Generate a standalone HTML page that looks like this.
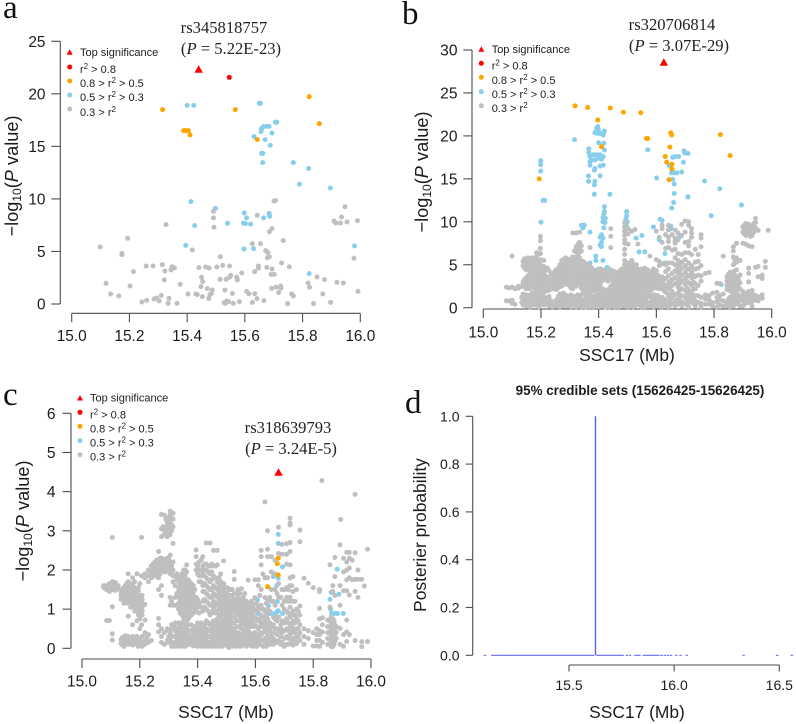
<!DOCTYPE html>
<html><head><meta charset="utf-8"><title>GWAS regional plots</title>
<style>
html,body{margin:0;padding:0;background:#fff;width:796px;height:724px;overflow:hidden}
svg{display:block}
text{font-family:"Liberation Sans",sans-serif;fill:#1c1c1c}
.serif{font-family:"Liberation Serif",serif}
.letter{font-family:"Liberation Serif",serif;font-size:33px;fill:#111}
.snp{font-family:"Liberation Serif",serif;font-size:16.6px;fill:#222}
.leg{font-size:11px}
.ttl{font-size:17.4px}
</style></head><body>
<svg id="fig" width="796" height="724" viewBox="0 0 796 724" xmlns="http://www.w3.org/2000/svg">
<text class="letter" x="3" y="18">a</text>
<text class="letter" x="402" y="24">b</text>
<text class="letter" x="3" y="405">c</text>
<text class="letter" x="405" y="413">d</text>

<text class="snp" x="224" y="33" text-anchor="middle">rs345818757</text>
<text class="snp" x="231" y="54" text-anchor="middle">(<tspan font-style="italic">P</tspan> = 5.22E-23)</text>
<text class="snp" x="672" y="30" text-anchor="middle">rs320706814</text>
<text class="snp" x="679" y="51" text-anchor="middle">(<tspan font-style="italic">P</tspan> = 3.07E-29)</text>
<text class="snp" x="288" y="433" text-anchor="middle">rs318639793</text>
<text class="snp" x="291" y="454" text-anchor="middle">(<tspan font-style="italic">P</tspan> = 3.24E-5)</text>

<text class="ttl" style="font-size:18.2px" transform="translate(18,176) rotate(-90)" text-anchor="middle">−log<tspan font-size="12" dy="3">10</tspan><tspan dy="-3">(</tspan><tspan font-style="italic">P</tspan> value)</text>
<text class="ttl" style="font-size:18.2px" transform="translate(428,172) rotate(-90)" text-anchor="middle">−log<tspan font-size="12" dy="3">10</tspan><tspan dy="-3">(</tspan><tspan font-style="italic">P</tspan> value)</text>
<text class="ttl" style="font-size:18.2px" transform="translate(29,521) rotate(-90)" text-anchor="middle">−log<tspan font-size="12" dy="3">10</tspan><tspan dy="-3">(</tspan><tspan font-style="italic">P</tspan> value)</text>
<text class="ttl" transform="translate(426,535) rotate(-90)" text-anchor="middle">Posterier probability</text>

<text class="ttl" x="627" y="361" text-anchor="middle">SSC17 (Mb)</text>
<text class="ttl" x="226" y="718" text-anchor="middle">SSC17 (Mb)</text>
<text class="ttl" x="637" y="718" text-anchor="middle">SSC17 (Mb)</text>
<text x="640" y="395" font-size="13.4" font-weight="bold" text-anchor="middle">95% credible sets (15626425-15626425)</text>

<g id="plots"></g>
</svg>
<script>
const SVGNS = 'http://www.w3.org/2000/svg';
const COLORS = { gray:'#bfbfbf', blue:'#87ceeb', orange:'#ffa500', red:'#ff0000', stem:'#5c5cf4', axis:'#4d4d4d' };

/* ---------- shared axis tick labels ---------- */
const xTicksABC = [15.0,15.2,15.4,15.6,15.8,16.0];
const yTicksA = [0,5,10,15,20,25];
const yTicksB = [0,5,10,15,20,25,30];
const yTicksC = [0,1,2,3,4,5,6];
const xTicksD = [15.5,16.0,16.5];
const yTicksD = [0,0.2,0.4,0.6,0.8,1.0];

/* ---------- panel a ---------- */
const aTop = [[15.44,22.36]];
const aRed = [[15.546,21.57]];
const aOrange = [[15.315,18.5],[15.567,18.5],[15.823,19.73],[15.858,17.16],[15.388,16.5],[15.396,16.5],[15.404,16.5],[15.41,16.1],[15.643,15.64]];
const aBlue = [[15.40,18.9],[15.423,18.9],[15.65,19.1],[15.654,19.1],[15.706,17.3],[15.711,17.3],[15.675,16.9],[15.684,16.9],[15.664,16.88],[15.658,16.7],[15.656,16.4],[15.694,16.27],[15.632,15.93],[15.67,15.64],[15.688,15.1],[15.658,14.34],[15.662,14.34],[15.662,13.45],[15.768,13.45],[15.821,12.9],[15.789,11.4],[15.896,11.04],[15.413,9.74],[15.498,9.1],[15.426,7.46],[15.54,7.68],[15.598,8.66],[15.606,8.2],[15.595,7.7],[15.602,7.65],[15.62,7.6],[15.665,8.2],[15.684,8.63],[15.685,8.44],[15.686,8.35],[15.395,5.58],[15.597,5.23],[15.63,5.27],[15.98,5.52],[15.823,2.89]];
const aGray = [[15.099,5.43],[15.174,4.82],[15.174,4.7],[15.194,6.25],[15.327,7.55],[15.119,1.97],[15.135,.95],[15.163,.76],[15.202,1.71],[15.214,3.08],[15.258,3.62],[15.282,3.62],[15.314,3.74],[15.323,3.14],[15.321,2.28],[15.348,3.55],[15.344,3.24],[15.356,3.43],[15.376,1.87],[15.243,.19],[15.26,.35],[15.285,.48],[15.294,.57],[15.31,.82],[15.303,.29],[15.337,.54],[15.334,.06],[15.365,.06],[15.403,.95],[15.43,.95],[15.435,.89],[15.453,.7],[15.448,1.65],[15.45,2.54],[15.454,2.13],[15.418,5.14],[15.441,3.46],[15.464,3.52],[15.476,3.43],[15.503,3.52],[15.515,4.5],[15.523,3.68],[15.547,3.62],[15.491,8.2],[15.493,7.3],[15.491,8.82],[15.47,1.46],[15.487,1.33],[15.479,.89],[15.484,1],[15.475,.54],[15.514,2.35],[15.535,2.35],[15.551,2.73],[15.547,2.55],[15.572,2.54],[15.574,2.28],[15.589,2.95],[15.531,1.33],[15.557,1],[15.528,.13],[15.537,.29],[15.544,.22],[15.532,.06],[15.56,.06],[15.581,.22],[15.606,1.2],[15.614,.98],[15.634,.98],[15.626,.16],[15.642,.51],[15.666,.32],[15.634,3.08],[15.647,3.62],[15.647,3.4],[15.676,3.49],[15.694,3.33],[15.691,2.82],[15.702,2.82],[15.693,1.49],[15.708,1.59],[15.724,1.71],[15.725,1.5],[15.717,1.08],[15.727,3.9],[15.754,3.55],[15.762,.95],[15.768,.76],[15.748,.03],[15.819,2],[15.824,1.59],[15.85,2.57],[15.876,2.32],[15.87,.95],[15.838,.03],[15.897,.16],[15.919,2.06],[15.941,2],[15.992,1.2],[15.978,4.35],[15.626,5.74],[15.654,5.74],[15.672,5.08],[15.68,4.89],[15.685,4.5],[15.678,4.4],[15.733,6.03],[15.685,6.88],[15.694,7.17],[15.643,8.44],[15.706,9.84],[15.701,9.8],[15.947,9.26],[15.935,8.28],[15.909,7.9],[15.915,7.71],[15.931,7.71],[15.954,7.8],[15.99,7.93]];

/* ---------- panel b ---------- */
const bTop = [[15.626,28.6]];
const bRed = [];
const bOrange = [[15.318,23.5],[15.362,23.3],[15.44,23.25],[15.486,22.75],[15.546,22.7],[15.397,21.85],[15.41,18.75],[15.566,19.7],[15.57,19.7],[15.65,20.35],[15.653,20.1],[15.647,18.7],[15.631,17.6],[15.636,16.95],[15.654,16.7],[15.654,16.15],[15.644,14.9],[15.822,20.15],[15.856,17.7],[15.194,15.0]];
const bBlue = [[15.316,19.57],[15.397,21.08],[15.393,20.9],[15.399,20.7],[15.387,20.4],[15.395,20.3],[15.404,20.3],[15.42,20.55],[15.416,20.1],[15.40,19.2],[15.418,19.14],[15.42,18.36],[15.366,18.5],[15.366,18.06],[15.37,17.6],[15.382,17.8],[15.393,17.8],[15.405,17.8],[15.416,17.6],[15.375,17.2],[15.387,17.2],[15.399,17.4],[15.41,17.3],[15.37,17],[15.37,16.6],[15.387,16.2],[15.385,16],[15.405,16.5],[15.416,16.6],[15.365,15.35],[15.365,14.7],[15.387,14.7],[15.385,14.3],[15.405,15.35],[15.385,13.2],[15.439,13.2],[15.57,18.37],[15.601,15.1],[15.696,18.25],[15.699,18],[15.71,17.95],[15.657,17.5],[15.665,17.6],[15.677,17.6],[15.644,16.55],[15.694,16.93],[15.653,15.7],[15.663,15.7],[15.671,15.7],[15.688,15.8],[15.657,14.95],[15.662,14.4],[15.662,13.3],[15.709,12.9],[15.66,12.25],[15.653,11.6],[15.613,10.3],[15.199,17.1],[15.199,16.65],[15.199,15.9],[15.207,12.5],[15.213,12.5],[15.2,9.95],[15.42,11.76],[15.42,11.2],[15.418,10.9],[15.415,10.5],[15.423,10.4],[15.415,10],[15.422,9.9],[15.418,9.3],[15.41,8.5],[15.405,8.2],[15.415,8.1],[15.41,7.6],[15.405,7.3],[15.41,7.1],[15.39,6],[15.39,5.5],[15.37,5.2],[15.415,5.5],[15.34,9.6],[15.35,9.6],[15.345,9.3],[15.37,8.8],[15.497,11.2],[15.497,10.7],[15.494,10.3],[15.499,10],[15.495,9.6],[15.497,9.2],[15.53,8.1],[15.55,8.4],[15.54,6.5],[15.56,6.5],[15.59,9.4],[15.62,10.15],[15.61,7.9],[15.63,6.3],[15.63,5.2],[15.65,9.5],[15.65,9.2],[15.68,8.2],[15.665,7.7],[15.645,2.8],[15.825,2.7],[15.79,10.7],[15.895,11.95],[15.71,12.9],[15.767,14.75],[15.82,13.85],[15.38,4.4],[15.4,4.5],[15.43,4.7],[15.56,3.5]];
const bGrayColumns = [
[15.08,[2.4,.8]],[15.09,[2.3,.8]],[15.1,[6,2.4,.5,.85]],[15.11,[2.2,.4]],[15.122,[2.5,2.3]],[15.133,[2.5,1.2,.6]],
[15.143,[5.7,5.1,4.6,3.3,2.4,1.1,.6]],[15.155,[5.8,5.3,4.7,3.7,3,2.4,1.2,.8,.3]],[15.17,[5.8,5.2,4.6,3.7,3.1,2.5,1.7,1.1,.5]],
[15.185,[6.4,6,5.5,5,4.5,3.8,3.2,2.7,2.1,1.4,.9,.4]],[15.198,[8.3,7.8,6.9,6.3,5.6,5,4.4,3.9,3.2,2.6,2,1.3,.8,.3]],
[15.21,[5.5,4.8,4.1,3.4,2.8,2.2,1.3,.8,.3]],[15.222,[4.6,3.5,2.9,2.3,1.1,.7,.4]],[15.235,[3.8,3.2,2.5,.8,.3]],
[15.248,[4.2,3.6,3,2.4,.5,.2]],[15.26,[4.6,4.1,3.5,2.9,2.3,1.3,.6,.2]],[15.272,[5.5,4.9,4.3,3.7,3.1,2.5,1.4,.9,.4]],
[15.285,[5.8,5.3,4.7,4.1,3.5,2.9,1.5,1,.4]],[15.298,[5.6,5,4.4,3.8,3.2,2.6,1.2,.7,.2]],[15.31,[8.7,5.9,5.4,4.8,4.2,3.6,3,2.2,1,.4]],
[15.322,[8.7,7.1,6.5,5.9,5.2,4.6,4.1,3.5,2.9,2.5,1.1,.5,.1]],[15.334,[8.8,7.6,7,6.5,5.8,5,4.4,3.8,3.2,2.7,1.2,.6,.2]],
[15.346,[5.4,4.8,4.2,3.6,3.1,2.6,2,.8,.3]],[15.358,[5.1,4.5,3.9,3.4,2.8,2.3,1.2,.7,.1]],[15.37,[7,4.8,4.2,3.6,3.1,2.5,2,1,.5,.1]],
[15.382,[4.4,3.9,3.3,2.8,2.2,1.1,.6,.1]],[15.395,[4.4,3.8,3.3,2.7,2.2,1.5,.9,.4]],[15.407,[4.5,3.9,3.4,2.9,2.4,1.9,1.3,.7,.2]],
[15.42,[4.4,3.9,3.3,2.1,1.6,1,.5,.1]],[15.432,[4.2,3.7,3.1,1.8,1.3,.8,.3]],[15.442,[9.2,8.3,7,4.4,3.9,3.3,2.5,2,1.4,.9,.4]],
[15.455,[4.2,3.7,3.2,2.7,2.2,1.7,1.1,.6,.1]],[15.468,[4,3.5,3,2.5,2,1.5,1,.5,.1]],[15.48,[4.5,4,3.5,3,2.5,2,1.5,1,.4]],
[15.49,[9.9,9.4,8.9,8.4,7.9,7.5,6.8,6.2,5.5,5,4.5,4,3.5,3,2.5,2,1.5,1,.4]],[15.502,[9.2,8.6,7.4,5.2,4.7,4.2,3.7,3.1,2.6,2.1,1.6,1.1,.6,.1]],
[15.515,[8.9,5.5,4.8,4.3,3.8,3.2,2.7,2.2,1.7,1.2,.7,.2]],[15.526,[9.1,4.7,4.2,3.7,3.2,2.7,2.2,1.7,1.2,.7,.2]],[15.536,[7.4,4.5,4,3.5,3,2.5,2,1.5,1,.5]],
[15.548,[4.5,4,3.5,3,2.5,2,1.5,1,.5,.1]],[15.56,[4.6,4.1,3.6,3.1,2.6,2.1,1.6,1.1,.6,.1]],[15.57,[4.4,3.9,3.4,2.9,2.4,1.9,1.4,.5]],
[15.578,[6,4,3.5,3,2.5,2,1.3,.6,.2]],[15.59,[4.5,4,3.5,2.8,2.3,1.2,.5,.1]],[15.6,[8.9,5.6,4.3,3.5,2.9,2.3,1.1,.6]],
[15.61,[8.2,5.4,4.9,3.4,2.8,2.2,1,.4]],[15.62,[9.6,9.2,7.6,5.1,3.6,3,2.3,1.2,.6,.1]],[15.632,[8.5,6.9,5,4.2,3.4,2.5,1.8,.9,.3]],
[15.642,[9.6,9.05,8.2,7.7,7,5.2,4.5,3.7,2.9,2.2,1.4,.7,.1]],[15.655,[8.5,6.7,5.2,4,3.3,2.6,1.9,1.2,.5]],[15.665,[9.05,8.1,7.5,6.8,5.8,5,4.3,3.5,2.8,1.5,.8,.2]],
[15.675,[8.7,7.9,6.3,5.5,4.7,4,3.2,2.4,1.7,1,.4]],[15.688,[9.7,8.4,6.2,5.3,4.6,3.8,3.1,2.2,1.4,.7,.2]],[15.7,[10.1,8.8,7.6,6.4,5.6,4.9,4.1,3.4,2.7,2,1.2,.5]],
[15.712,[10,9.6,7.7,7.2,6.4,5.2,4.5,3.7,2.9,2,1.3,.6,.1]],[15.722,[9.2,8.7,8.2,6.2,4.9,4.1,3.5,2.6,1.7,.9]],[15.735,[6.8,5.3,4.5,3.6,2.8,2.2,1.4,.8,.2]],
[15.745,[6.2,5.4,4.6,3.8,2.6,1.4,.6]],[15.755,[8.5,8.1,7.1,4.9,3.7,3.1,1.2,.5,.1]],[15.77,[4,1.5,1,.4]],[15.783,[4.1,1.4,.9,.4]],
[15.795,[1.7,.6,.2]],[15.81,[2.85,1.8,1.2,.7,.1]],[15.82,[2.8,1.4,.9,.3]],[15.832,[6,1.6,.8,.2]],[15.845,[3.6,3.1,2.6,2.1,.6,.2]],
[15.855,[4.1,3.5,3,2.5,2,1.2,.6,.1]],[15.867,[7.1,6.6,5.9,5,4.2,3.6,3.1,2.6,2.1,1.3,.7,.2]],[15.878,[7.5,5.8,5.3,4.4,3.5,3,2.5,2,1.2,.6]],
[15.89,[5.5,3.8,2.9,2.2,1.3,.8,.2]],[15.9,[9.4,8.8,7.5,1.9,1.4,.9,.2]],[15.91,[9.8,9.3,8.8,8.4,7.4,1.7,1.2,.5]],[15.92,[9.7,9.2,8.6,7.2,4.6,4,3,1.9,1.3,.6]],
[15.932,[9.5,8.9,8.4,7.1,2,1.3,.7,.2]],[15.944,[10.4,9.9,9.3,4.7,1.4,.9]],[15.953,[9,4.8,3.6,1.3,.8]],[15.967,[3.8,3.4,1.5,1.1]],[15.978,[5.4,4.7]],[15.988,[9]]
];
const bGrayDense = [
[15.138,[5.4,4.9,3,1.6,.9,.3]],[15.149,[5.5,5,4.4,3.5,2.8,2.2,1.5,1,.5,.2]],[15.162,[5.6,5,4.5,4.1,3.4,2.9,2.2,1.5,1,.5,.1]],
[15.178,[5.6,5,4.2,3.4,2.9,2.3,1.8,1.4,.8,.3]],[15.192,[5.3,4.8,4.2,3.5,3,2.4,1.7,1.1,.6,.1]],[15.204,[4.7,3.6,2.9,2.3,1.6,1,.5]],
[15.216,[4.4,3.7,3.1,2.5,1.9,1,.5]],[15.228,[4.3,3.2,2.6,2,1.3,.9,.2]],[15.24,[4,3.5,2.9,2.2,.6,.1]],[15.253,[4.4,3.9,3.3,2.7,2.1,.9,.3]],
[15.266,[5,4.5,3.8,3.2,2.6,1.6,1,.4,.1]],[15.278,[5.6,5.1,4.5,3.9,3.3,2.7,1.7,1.2,.7,.2]],[15.291,[5.7,5.1,4.5,3.9,3.3,2.7,1.3,.8,.2]],
[15.304,[5.5,5,4.4,3.9,3.3,2.8,2.3,1.5,.7,.1]],[15.316,[6.6,5.7,5.1,4.5,3.9,3.3,2.7,1.3,.7,.3]],[15.328,[7.4,6.8,6.2,5.6,4.9,4.3,3.6,3,1.5,.9,.3]],
[15.34,[7.2,6.6,5.4,4.7,4,3.5,2.9,2.3,1.5,.9,.4,.1]],[15.352,[4.9,4.3,3.7,3.2,2.6,2.1,1.6,1,.5,.1]],[15.364,[5.1,4.6,4,3.4,2.8,2.3,1.7,1.2,.8,.3]],
[15.376,[4.6,4.1,3.5,3,2.4,1.9,1.3,.8,.3]],[15.388,[4.2,3.6,3.1,2.5,2,1.4,.8,.3]],[15.401,[4.1,3.6,3.1,2.6,2.1,1.6,1.1,.6,.1]],
[15.413,[4.2,3.7,3.2,2.2,1.7,1.2,.7,.2]],[15.426,[4.1,3.6,2,1.5,1,.6,.1]],[15.437,[4.3,3.9,3.4,2.2,1.6,1.1,.6,.1]],
[15.448,[4.3,3.8,3.2,2.7,2.2,1.7,1.2,.7,.2]],[15.461,[4.1,3.6,3.1,2.6,2.1,1.6,1.1,.6,.2]],[15.474,[4.3,3.8,3.3,2.8,2.3,1.8,1.3,.8,.3]],
[15.485,[4.2,3.7,3.2,2.7,2.2,1.7,1.2,.7,.2]],[15.496,[4.8,4.3,3.8,3.3,2.8,2.3,1.8,1.3,.8,.3]],[15.508,[5,4.5,4,3.5,3,2.4,1.9,1.4,.9,.4]],
[15.52,[5.1,4.5,4,3.5,3,2.5,2,1.5,1,.5,.1]],[15.531,[5,4.4,3.9,3.4,2.9,2.4,1.9,1.4,.9,.4]],[15.542,[4.2,3.7,3.2,2.7,2.2,1.7,1.2,.7,.3]],
[15.554,[4.3,3.8,3.3,2.8,2.3,1.8,1.3,.8,.3]],[15.565,[4.1,3.6,3.1,2.6,2.1,1.6,1.1,.7,.2]],[15.584,[4.2,3.7,3.2,2.6,2.1,1.5,.8,.3]],
[15.595,[3.8,3.2,2.6,1.5,.8,.2]],[15.605,[3.8,3.2,2.5,1.4,.8,.2]],[15.626,[3.3,2.7,2,1,.4]],[15.648,[3.1,2.4,1.6,1,.3]],
[15.681,[5.1,4.3,3.6,2.8,2,1.2,.6]],[15.706,[4.5,3.8,3.1,2.3,1.6,.9,.3]],[15.728,[4.5,3.8,3,2.1,1.2,.5]],
[15.85,[3.9,3.3,2.8,2.3,1,.4]],[15.861,[3.8,3.3,2.8,2.3,1.8,.9,.4]],[15.872,[5.5,3.8,3.3,2.8,2.3,1.7,1,.4]],[15.884,[3.3,2.7,2.1,1.5,.9,.4]],
[15.905,[9.6,9.1,8.6,1.6,1.1,.5]],[15.915,[9.5,9,8.5,1.5,.9]],[15.926,[9.4,8.8,8.3,1.6,.9]],[15.938,[9.8,9.3,8.8,1.5,1]]
];

/* ---------- panel c ---------- */
const cTop = [[15.68,4.5]];
const cRed = [];
const cOrange = [[15.679,2.3],[15.676,2.16],[15.679,1.87],[15.642,1.57]];
const cBlue = [[15.679,2.91],[15.679,2.68],[15.694,2.08],[15.679,1.79],[15.662,1.83],[15.674,1.6],[15.607,1.23],[15.676,1.19],[15.645,1.08],[15.679,.96],[15.674,.92],[15.668,.89],[15.656,.89],[15.645,.88],[15.694,.89],[15.61,.89],[15.487,.89],[15.506,.89],[15.514,.89],[15.541,.55],[15.633,.61],[15.648,.64],[15.883,2.02],[15.862,1.43],[15.889,1.38],[15.858,1.25],[15.86,1],[15.864,.89],[15.873,.89],[15.884,.89],[15.904,.89]];
const cGrayColumns = [
[15.075,[1.6,1.55]],[15.085,[1.6,1.5,.71]],[15.095,[1.65,1.55,1.45,.71]],[15.105,[2.83,1.7,1.6,1.5,1.06,.37,.21]],[15.115,[1.68,1.58,1.48]],[15.125,[1.6,1.52]],
[15.14,[1.52,1.42,1.33,.28,.17,.08]],[15.15,[1.6,1.5,1.4,1.3,1.2,.32,.2,.1]],[15.16,[1.9,1.7,1.6,1.5,1.4,1.3,1.2,.82,.3,.2,.1]],
[15.175,[1.8,1.6,1.5,1.4,1.3,1.2,1.1,.6,.3,.18,.08]],[15.19,[1.9,1.5,1.4,1.3,1.2,1.1,1,.7,.3,.2,.1]],[15.2,[1.65,1.3,1.2,1.1,1,.9,.75,.5,.25,.12]],
[15.206,[2.83,1.85,.6]],[15.218,[1.9,1.8,1.12,.72,.4,.2,.1]],[15.23,[2,1.7,.35,.15]],[15.24,[2.1,1.9,1.8,.2]],[15.252,[2.2,2.1,2,1.85]],
[15.265,[2.47,2.25,2.1,1.95,1.8,1.5,.76,.6,.42]],[15.275,[3.42,3.05,2.85,2.3,2.15,2,1.6,1.35,.5,.3,.15]],[15.285,[3.4,3,2.9,2.25,2.1,1.95,.4,.1]],
[15.295,[3.2,3.05,2.95,2.85,2.3,2.15,2,.5,.2]],[15.305,[3.5,3.4,3.3,3.2,3.1,2.9,2.38,2.2,2.05,1.9,1.3,1.1,.4,.2]],[15.315,[3.45,3.3,3.1,2.68,2.2,2,1.85,1.7,1.1,.6,.3,.1]],
[15.328,[1.9,1.75,1.4,1.1,.5,.35,.2,.08]],[15.34,[1.8,1.65,1.5,1.35,1.2,1.05,.9,.55,.4,.25,.1]],[15.352,[2,1.8,1.65,1.5,1.35,1.2,1.05,.9,.75,.5,.35,.2,.06]],
[15.362,[2.13,1.95,1.6,1.45,1.3,1.15,1,.85,.7,.5,.35,.2,.08]],[15.372,[1.7,1.55,1.4,1.25,1.1,.95,.8,.45,.3,.15]],[15.385,[1.6,1.4,1.25,1.1,.9,.5,.35,.2,.06]],
[15.395,[2.51,2.34,2.15,2,1.3,1.1,.95,.55,.4,.25,.1]],[15.405,[2.2,2,1.85,1.7,1.15,.9,.6,.45,.3,.15]],[15.418,[2.34,2.1,1.95,1.6,1.45,1.2,.95,.55,.4,.25,.1]],
[15.43,[2.69,2.15,2,1.8,1.6,1.4,1.2,1,.7,.5,.35,.2,.06]],[15.443,[2.69,2.1,1.9,1.7,1.5,1.3,1.1,.85,.6,.45,.3,.15]],[15.455,[2.5,2.1,1.85,1.6,1.4,1.2,1,.7,.55,.4,.25,.1]],
[15.468,[2.5,2.13,1.7,1.5,1.3,1.15,.95,.75,.55,.4,.25,.08]],[15.48,[1.9,1.7,1.5,1.3,1.15,1,.8,.6,.45,.3,.15]],[15.49,[2.23,1.65,1.5,1.35,1.2,1.05,.9,.75,.6,.45,.3,.12]],
[15.502,[1.55,1.4,1.25,1.1,.95,.8,.65,.5,.35,.2,.06]],[15.514,[1.5,1.35,1.2,1.05,.75,.6,.45,.3,.15]],[15.527,[1.96,1.76,1.4,1.25,1.1,.95,.8,.65,.45,.3,.12]],
[15.54,[1.5,1.3,1.15,1,.85,.7,.4,.25,.1]],[15.552,[1.52,1.25,1.1,.95,.8,.65,.5,.35,.2,.06]],[15.563,[1.4,1.2,1.05,.9,.75,.6,.45,.3,.15]],
[15.575,[1.74,1.1,.95,.8,.65,.45,.3,.12]],[15.587,[1.2,1.05,.9,.75,.6,.35,.2,.06]],[15.598,[1.75,1.29,1,.8,.6,.4,.25,.1]],
[15.61,[1.75,1.6,1.05,.7,.5,.3,.15]],[15.62,[2.5,2.34,2.13,1.5,1.1,.85,.65,.35,.2]],[15.633,[3.74,1.8,1.3,.95,.7,.45,.25,.08]],
[15.642,[3,2.53,2.34,1.8,1.25,1,.75,.5,.3,.12]],[15.655,[2.34,1.95,1.5,1.2,.55,.35,.15]],[15.668,[2.25,1.9,1.5,1.1,.75,.5,.2]],
[15.68,[3.09,2.42,1.65,1.3,.8,.45,.2]],[15.692,[2.4,2.65,1.5,1.1,.7,.4,.15]],[15.708,[2.67,2.4,2.15,1.55,1.3,.95,.75,.5,.3,.1]],
[15.72,[3.32,3.15,3.2,2.7,2.47,2.13,1.8,1.6,1.3,1.05,.8,.55,.35,.12]],[15.73,[1.83,1.45,.95,.7,.5,.25,.08]],[15.742,[1.5,1,.75,.5,.3,.12]],
[15.754,[3.02,2.72,1.08,.85,.6,.4,.2]],[15.768,[1.79,.5,.3,.1]],[15.783,[1.66,.45,.25]],[15.8,[1.55,.4,.06]],[15.812,[.5,.35,.2,.06]],
[15.822,[1.45,1.5,1.02,.75,.45,.35,.2,.05]],[15.832,[.78,.6,.42,.15]],[15.85,[.72,.55,.4,.25,.1]],[15.858,[2.13,1.05,.7,.55,.4,.25,.12]],
[15.868,[1.6,1.45,.75,.6,.45,.3,.15,.04]],[15.875,[2.32,1.83,1.35,.6,.45,.3,.18]],[15.893,[2.64,1.6,1.1,.51,.1]],[15.905,[2.3,1.95,1.47,.35,.05]],
[15.916,[2.45,2.2,2,1.75,1.47,.72,.42,.17]],[15.925,[2.45,2.3,2.05,1.8,1.36,.35]],[15.935,[2.25,1.75]],[15.945,[3.93,2.44,1.76,1.45,.2]],[15.955,[2,1.76,1.3]],[15.968,[1.76,.04,.17]],[15.977,[1.59]],[15.988,[2.53,.17]],[15.895,[3.29]],[15.83,[4.28]]
];
const cGrayDense = [
[15.135,[1.45,1.35,1.25,.22,.12]],[15.145,[1.55,1.45,1.35,1.25,1.15,.25,.15,.05]],[15.155,[1.65,1.55,1.45,1.35,1.25,1.15,.25,.15]],[15.168,[1.65,1.55,1.45,1.35,1.25,1.15,1.05,.25,.12]],
[15.182,[1.7,1.55,1.45,1.35,1.25,1.15,1.05,.95,.25,.15]],[15.195,[1.55,1.45,1.35,1.25,1.15,1.05,.95,.85,.25,.15,.05]],[15.208,[1.35,1.25,1.15,1.05,.95,.85,.3,.15,.05]],
[15.225,[1.85,.3,.2]],[15.235,[2,1.95,1.85]],[15.246,[2.15,2.05,1.95]],[15.258,[2.25,2.15,2.05,1.95,1.85]],[15.27,[2.3,2.2,2.1,2,1.9]],[15.28,[2.28,2.18,2.08,1.98,3.1]],[15.29,[3.3,3.1,2.2,2.1,2]],[15.3,[3.35,3.2,3,2.3,2.1,1.95,.45,.3,.15]],
[15.31,[3.3,3.15,3,2.2,2.1,1.95,1.2,.6,.5,.3,.15,.05]],[15.322,[1.85,1.6,1.3,1.1,.65,.55,.45,.3,.15,.05]],[15.334,[1.85,1.7,1.55,1.45,1.3,1.15,1,.65,.45,.3,.15,.05]],
[15.346,[1.9,1.75,1.6,1.45,1.3,1.15,1,.85,.65,.45,.3,.15,.05]],[15.357,[2,1.85,1.7,1.55,1.4,1.25,1.1,.95,.8,.6,.45,.3,.15,.05]],[15.367,[1.75,1.6,1.45,1.35,1.2,1.05,.9,.75,.6,.4,.25,.1]],
[15.378,[1.65,1.5,1.35,1.2,1.05,.85,.6,.45,.25,.1]],[15.39,[1.5,1.3,1.15,1,.55,.4,.25,.1]],[15.4,[2.1,1.9,1.25,1.05,.65,.5,.35,.2,.05]],
[15.412,[2.25,2,1.85,1.7,1.05,.65,.5,.35,.2,.05]],[15.424,[2.15,2,1.85,1.65,1.45,1.25,1.05,.6,.45,.3,.15,.05]],[15.437,[2.1,1.95,1.75,1.55,1.35,1.15,.95,.65,.45,.3,.15,.05]],
[15.449,[2.15,1.95,1.75,1.5,1.3,1.1,.9,.65,.5,.35,.2,.05]],[15.462,[2.1,1.8,1.55,1.35,1.1,.9,.65,.5,.35,.2,.05]],[15.474,[1.8,1.6,1.4,1.2,1.05,.85,.65,.5,.35,.2,.05]],
[15.485,[1.6,1.4,1.25,1.1,.95,.7,.5,.35,.2,.05]],[15.496,[1.55,1.4,1.3,1.15,1,.85,.7,.55,.4,.25,.1]],[15.508,[1.5,1.35,1.2,1.1,1,.85,.7,.55,.4,.25,.1,.02]],
[15.52,[1.5,1.3,1.15,1.05,.95,.8,.65,.5,.35,.2,.05]],[15.533,[1.4,1.25,1.15,1.05,.95,.85,.7,.55,.35,.2,.05]],[15.546,[1.4,1.2,1.1,1,.9,.8,.7,.55,.3,.15,.05]],
[15.558,[1.3,1.2,1.1,1,.9,.8,.7,.6,.4,.25,.1]],[15.569,[1.2,1.1,1,.9,.8,.7,.55,.4,.2,.05]],[15.581,[1.15,1.05,.95,.85,.7,.55,.4,.25,.1]],
[15.592,[1.1,.95,.85,.7,.55,.3,.15,.05]],[15.604,[1.15,.95,.75,.55,.35,.2,.05]],[15.615,[1.35,1,.75,.55,.4,.25,.1]],[15.626,[1.9,1,.8,.55,.4,.2,.05]],
[15.638,[1.15,.85,.6,.4,.2,.05]],[15.65,[1.3,.95,.65,.45,.25,.1]],[15.662,[1.2,.8,.6,.4,.25,.1]],[15.675,[1.4,.7,.5,.35,.15]],[15.688,[1.3,.6,.5,.3,.1]],
[15.7,[1.5,1.2,1,.65,.45,.25,.05]],[15.714,[1.5,1.2,.9,.65,.45,.25,.1]],[15.726,[1.6,1.2,.85,.6,.4,.2]],[15.737,[1.2,.85,.65,.4,.2]],[15.748,[.95,.7,.5,.3]],
[15.862,[.8,.65,.5,.35,.2,.05]],[15.872,[.7,.55,.4,.25,.1]],[15.88,[.55,.4,.25]]
];

/* ---------- panel d ---------- */
const dPeakX = [15.626];
const dPeakP = [1.0];
const dNullX = [15.10,15.135,15.145,15.155,15.165,15.175,15.185,15.195,15.205,15.215,15.225,15.235,15.245,15.255,15.265,15.275,15.285,15.295,15.305,15.315,15.325,15.335,15.345,15.355,15.365,15.375,15.385,15.395,15.405,15.415,15.425,15.435,15.445,15.455,15.465,15.475,15.485,15.495,15.505,15.515,15.525,15.535,15.545,15.555,15.565,15.575,15.585,15.595,15.605,15.615,15.635,15.645,15.655,15.665,15.675,15.685,15.695,15.705,15.715,15.725,15.735,15.745,15.755,15.775,15.79,15.815,15.825,15.835,15.855,15.865,15.875,15.885,15.895,15.905,15.915,15.925,15.94,15.955,15.97,15.985,16.01,16.03,16.06,16.33,16.49,16.56];
const dNullP = dNullX.map(function(){ return 0; });

/* ---------- drawing ---------- */
const root = document.getElementById('plots');
function mk(tag, attrs, parent, txt){
  const el = document.createElementNS(SVGNS, tag);
  for (const k in attrs) el.setAttribute(k, attrs[k]);
  if (txt !== undefined) el.textContent = txt;
  parent.appendChild(el);
  return el;
}
function scale(d0,d1,r0,r1){ return function(v){ return r0 + (v-d0)*(r1-r0)/(d1-d0); }; }
function expand(cols){
  const out = [];
  cols.forEach(function(c){ c[1].forEach(function(y){ out.push([c[0],y]); }); });
  return out;
}
function axes(g, p){
  const stroke = {stroke:COLORS.axis,'stroke-width':1.1,fill:'none'};
  const yl = mk('line', Object.assign({x1:p.yAxisX,x2:p.yAxisX,y1:p.sy(p.yTicks[p.yTicks.length-1]),y2:p.sy(p.yTicks[0])},stroke), g);
  
  
  const xl = mk('line', Object.assign({x1:p.sx(p.xTicks[0]),x2:p.sx(p.xTicks[p.xTicks.length-1]),y1:p.xAxisY,y2:p.xAxisY},stroke), g);
  
  
  p.yTicks.forEach(function(t){
    const y = p.sy(t);
    const tk = mk('line', Object.assign({x1:p.yAxisX-p.yTickLen,x2:p.yAxisX,y1:y,y2:y},stroke), g);
    
    
    const lb = mk('text', {x:p.yLabelX,y:y+p.yFont*0.36,'text-anchor':'end','font-size':p.yFont}, g, p.yFmt ? t.toFixed(1) : String(t));
    
    
  });
  p.xTicks.forEach(function(t){
    const x = p.sx(t);
    const tk = mk('line', Object.assign({x1:x,x2:x,y1:p.xAxisY,y2:p.xAxisY+p.xTickLen},stroke), g);
    
    
    const lb = mk('text', {x:x,y:p.xLabelY,'text-anchor':'middle','font-size':p.xFont}, g, t.toFixed(1));
    
    
  });
}
function dots(g, pts, color, name, p){
  pts.forEach(function(d){
    const c = mk('circle', {cx:p.sx(d[0]),cy:p.sy(d[1]),r:2.5,fill:color}, g);
    
    
  });
}
function triangle(g, x, y, w, h, name){
  const t = mk('polygon', {points:(x-w/2)+','+(y+h/2)+' '+x+','+(y-h/2)+' '+(x+w/2)+','+(y+h/2),fill:COLORS.red}, g);
  
  
}
function legend(g, mx, tx, my, ty){
  triangle(g, mx, my[0], 6, 5.5, 'legend-marker-top');
  const cols = [COLORS.red,COLORS.orange,COLORS.blue,COLORS.gray];
  cols.forEach(function(col,i){
    const c = mk('circle', {cx:mx,cy:my[i+1],r:2.5,fill:col}, g);
    
    
  });
  const t0 = mk('text', {x:tx,y:ty[0]+4,'class':'leg'}, g, 'Top significance');
  
  
  const rows = [['r','> 0.8'],['0.8 > r','> 0.5'],['0.5 > r','> 0.3'],['0.3 > r','']];
  rows.forEach(function(r,i){
    const t = mk('text', {x:tx,y:ty[i+1]+4,'class':'leg'}, g);
    
    
    mk('tspan', {}, t, r[0]);
    mk('tspan', {'font-size':8,dy:-4}, t, '2');
    mk('tspan', {dy:4}, t, r[1] ? ' '+r[1] : '');
  });
}
function panel(id, p, gray, blue, orange, red, top){
  const g = mk('g', {}, root);
  
  
  axes(g, p);
  dots(g, blue, COLORS.blue, 'snp-point-mid-ld', p);
  dots(g, gray, COLORS.gray, 'snp-point-low-ld', p);
  dots(g, orange, COLORS.orange, 'snp-point-high-ld', p);
  dots(g, red, COLORS.red, 'snp-point-top-ld', p);
  top.forEach(function(d){ triangle(g, p.sx(d[0]), p.sy(d[1]), 8.5, 7.5, 'top-snp-marker'); });
  legend(g, p.legMx, p.legTx, p.legMy, p.legTy);
}
panel('a', {
  sx:scale(15,16,71.7,360.3), sy:scale(0,25,304,41.3), xTicks:xTicksABC, yTicks:yTicksA,
  yAxisX:60.3, yTickLen:9, yLabelX:45.5, yFont:15.4, xAxisY:313.3, xTickLen:9, xLabelY:341, xFont:15.4,
  legMx:69.7, legTx:80, legMy:[52,67,81,95,109], legTy:[52,69,83,97,112]
}, aGray, aBlue, aOrange, aRed, aTop);
panel('b', {
  sx:scale(15,16,483.3,771.7), sy:scale(0,30,307.7,50), xTicks:xTicksABC, yTicks:yTicksB,
  yAxisX:472, yTickLen:8.7, yLabelX:457.5, yFont:15.6, xAxisY:309, xTickLen:9, xLabelY:337.5, xFont:15.4,
  legMx:481.3, legTx:491.7, legMy:[49,63.3,77.3,91.7,105.7], legTy:[49,65.7,80,94,108]
}, expand(bGrayColumns).concat(expand(bGrayDense)), bBlue, bOrange, bRed, bTop);
panel('c', {
  sx:scale(15,16,82,371), sy:scale(0,6,648.3,413.3), xTicks:xTicksABC, yTicks:yTicksC,
  yAxisX:71, yTickLen:8.5, yLabelX:55.5, yFont:15.6, xAxisY:659, xTickLen:9, xLabelY:686.5, xFont:15.4,
  legMx:80, legTx:90, legMy:[397.7,412.3,426.3,440.7,454.7], legTy:[397.7,414.3,428.3,442.3,456.7]
}, expand(cGrayColumns).concat(expand(cGrayDense)), cBlue, cOrange, cRed, cTop);

/* panel d: posterior probability stems */
(function(){
  const p = { sx:scale(15.5,16.5,569,779.3), sy:scale(0,1,655.3,416.3), xTicks:xTicksD, yTicks:yTicksD,
    yAxisX:472.7, yTickLen:7, yLabelX:459.5, yFont:14, yFmt:true, xAxisY:665, xTickLen:6.5, xLabelY:690, xFont:14 };
  const g = mk('g', {}, root);
  
  
  axes(g, p);
  dNullX.forEach(function(x,i){
    const px = p.sx(x);
    const b = mk('line', {x1:px-1.2,x2:px+1.2,y1:p.sy(dNullP[i]),y2:p.sy(dNullP[i]),stroke:COLORS.stem,'stroke-width':1}, g);
    
    
  });
  dPeakX.forEach(function(x,i){
    const s = mk('line', {x1:p.sx(x),x2:p.sx(x),y1:p.sy(0),y2:p.sy(dPeakP[i]),stroke:COLORS.stem,'stroke-width':1.4}, g);
    
    
  });
})();
</script>
</body></html>
